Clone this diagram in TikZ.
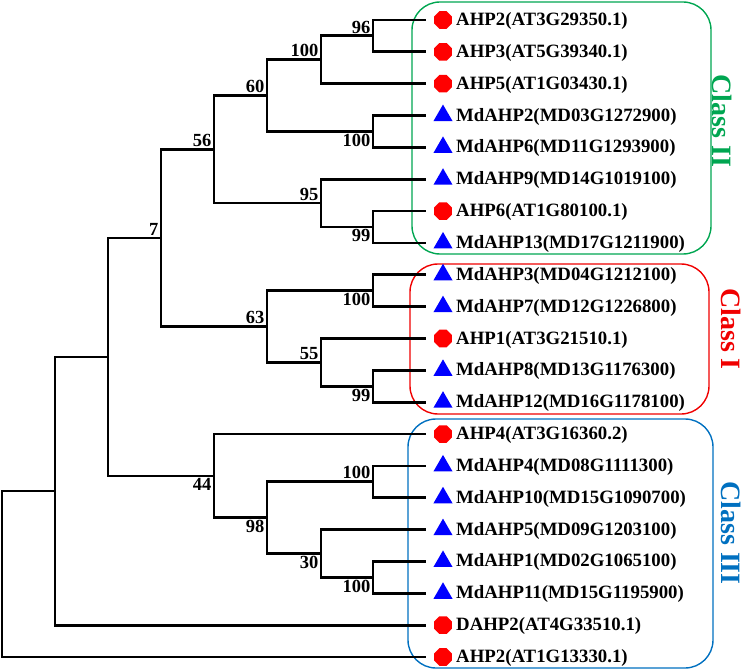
\documentclass[tikz,border=0pt]{standalone}
\usepackage{fontspec}
\setmainfont{Liberation Serif}
\usetikzlibrary{shapes.geometric}
\definecolor{cgreen}{RGB}{0,166,81}
\definecolor{cred}{RGB}{240,0,0}
\definecolor{cblue}{RGB}{0,112,192}
\definecolor{mred}{RGB}{255,0,0}
\definecolor{mblue}{RGB}{0,0,255}
\begin{document}
\begin{tikzpicture}[x=1pt,y=-1pt,
  branch/.style={line width=2.8pt, line cap=rect, line join=miter, black},
  boot/.style={font=\fontsize{18.5}{20}\selectfont\bfseries, inner sep=2.5pt},
  bootup/.style={boot, anchor=south east},
  bootdn/.style={boot, anchor=north east},
  leaflab/.style={font=\fontsize{18.8}{20}\selectfont\bfseries, anchor=base west, inner sep=0pt},
  at8/.style={regular polygon, regular polygon sides=8, fill=mred, minimum size=19pt, inner sep=0pt},
  md3/.style={regular polygon, regular polygon sides=3, fill=mblue, minimum size=22pt, inner sep=0pt},
  classbox/.style={rounded corners=28pt, line width=1.4pt},
  classlab/.style={font=\fontsize{28}{30}\selectfont\bfseries, rotate=-90, inner sep=0pt}
]
\useasboundingbox (0,0) rectangle (742,671);

% class boxes
\draw[classbox, cgreen] (412,2) rectangle (711,254);
\draw[classbox, cred] (410,264) rectangle (709,414);
\draw[classbox, cblue] (408,419) rectangle (713,668);

% leaves
\foreach \lab/\mk [count=\i] in {
  AHP2(AT3G29350.1)/at8,
  AHP3(AT5G39340.1)/at8,
  AHP5(AT1G03430.1)/at8,
  MdAHP2(MD03G1272900)/md3,
  MdAHP6(MD11G1293900)/md3,
  MdAHP9(MD14G1019100)/md3,
  AHP6(AT1G80100.1)/at8,
  MdAHP13(MD17G1211900)/md3,
  MdAHP3(MD04G1212100)/md3,
  MdAHP7(MD12G1226800)/md3,
  AHP1(AT3G21510.1)/at8,
  MdAHP8(MD13G1176300)/md3,
  MdAHP12(MD16G1178100)/md3,
  AHP4(AT3G16360.2)/at8,
  MdAHP4(MD08G1111300)/md3,
  MdAHP10(MD15G1090700)/md3,
  MdAHP5(MD09G1203100)/md3,
  MdAHP1(MD02G1065100)/md3,
  MdAHP11(MD15G1195900)/md3,
  DAHP2(AT4G33510.1)/at8,
  AHP2(AT1G13330.1)/at8}
{
  \pgfmathsetmacro{\yy}{20+(\i-1)*31.85}
  \coordinate (L\i) at (425,\yy);
  \node[\mk] (M\i) at (443,\yy) {};
  \node[leaflab] (T\i) at (456,\yy+5.5) {\lab};
}

% internal nodes
\coordinate (n96)   at (373,35.9);
\coordinate (n100a) at (321,59.8);
\coordinate (n100b) at (373,131.5);
\coordinate (n60)   at (267,95.6);
\coordinate (n99a)  at (373,227);
\coordinate (n95)   at (321,203.1);
\coordinate (n56)   at (214,149.4);
\coordinate (n100c) at (373,290.7);
\coordinate (n99b)  at (373,386.3);
\coordinate (n55)   at (321,362.4);
\coordinate (n63)   at (267,326.5);
\coordinate (n7)    at (161,238);
\coordinate (n100d) at (373,481.8);
\coordinate (n100e) at (373,577.4);
\coordinate (n30)   at (321,553.5);
\coordinate (n98)   at (267,517.7);
\coordinate (n44)   at (214,475.9);
\coordinate (nA)    at (108,357);
\coordinate (nB)    at (55,491);
\coordinate (root)  at (2,574);

% branches
\draw[branch] (L1) -| (n96) |- (L2);
\draw[branch] (n96) -| (n100a) |- (L3);
\draw[branch] (L4) -| (n100b) |- (L5);
\draw[branch] (n100a) -| (n60) |- (n100b);
\draw[branch] (L7) -| (n99a) |- (L8);
\draw[branch] (L6) -| (n95) |- (n99a);
\draw[branch] (n60) -| (n56) |- (n95);
\draw[branch] (L9) -| (n100c) |- (L10);
\draw[branch] (L12) -| (n99b) |- (L13);
\draw[branch] (L11) -| (n55) |- (n99b);
\draw[branch] (n100c) -| (n63) |- (n55);
\draw[branch] (n56) -| (n7) |- (n63);
\draw[branch] (L15) -| (n100d) |- (L16);
\draw[branch] (L18) -| (n100e) |- (L19);
\draw[branch] (L17) -| (n30) |- (n100e);
\draw[branch] (n100d) -| (n98) |- (n30);
\draw[branch] (L14) -| (n44) |- (n98);
\draw[branch] (n7) -| (nA) |- (n44);
\draw[branch] (nA) -| (nB) |- (L20);
\draw[branch] (nB) -| (root) |- (L21);

% bootstrap values
\node[bootup] (b96)   at (n96)   {96};
\node[bootup] (b100a) at (n100a) {100};
\node[bootup] (b60)   at (n60)   {60};
\node[bootup] (b56)   at (n56)   {56};
\node[bootup] (b7)    at (n7)    {7};
\node[bootup] (b95)   at (n95)   {95};
\node[bootup] (b63)   at (n63)   {63};
\node[bootup] (b55)   at (n55)   {55};
\node[bootup] (b100d) at (n100d) {100};
\node[bootdn] (b100b) at (n100b) {100};
\node[bootdn] (b99a)  at (n99a)  {99};
\node[bootdn] (b100c) at (n100c) {100};
\node[bootdn] (b99b)  at (n99b)  {99};
\node[bootdn] (b44)   at (n44)   {44};
\node[bootdn] (b98)   at (n98)   {98};
\node[bootdn] (b30)   at (n30)   {30};
\node[bootdn] (b100e) at (n100e) {100};

% class labels
\node[classlab, text=cgreen] (c2) at (722,121) {Class II};
\node[classlab, text=cred]   (c1) at (731,329) {Class I};
\node[classlab, text=cblue]  (c3) at (731,533) {Class III};
\end{tikzpicture}
\end{document}
